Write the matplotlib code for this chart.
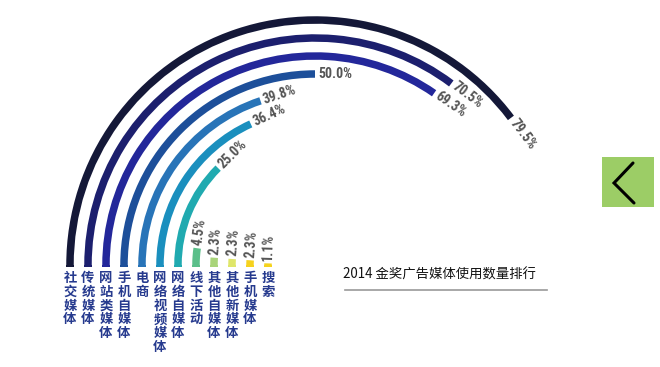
import math
import logging

import matplotlib
matplotlib.use("Agg")
import matplotlib.pyplot as plt
from matplotlib.patches import Wedge, Rectangle
from matplotlib import font_manager

logging.getLogger("matplotlib.font_manager").setLevel(logging.ERROR)
plt.rcParams['font.family'] = ['Noto Sans CJK SC', 'DejaVu Sans']

# data: outermost ring first
categories = ["社交媒体", "传统媒体", "网站类媒体", "手机自媒体", "电商", "网络视频媒体",
              "网络自媒体", "线下活动", "其他自媒体", "其他新媒体", "手机媒体", "搜索"]
values = [79.5, 70.5, 69.3, 50.0, 39.8, 36.4, 25.0, 4.5, 2.3, 2.3, 2.3, 1.1]
colors = ["#141838", "#1c1f6e", "#23279a", "#1d4f9a", "#2874b8", "#1a8fbe",
          "#20aab0", "#5bbf8a", "#a9d47a", "#dfe66a", "#f6d21e", "#f5d31e"]
title = "2014 金奖广告媒体使用数量排行"

W, H = 660, 367
fig = plt.figure(figsize=(6.6, 3.67), dpi=100)
ax = fig.add_axes([0, 0, 1, 1])
ax.set_xlim(0, W)
ax.set_ylim(0, H)
ax.axis("off")

cx, cy = 315, H - 265       # ring centre (pixels, y up)
r_outer, step, width = 245, 18, 7.5
deg_per_pct = 1.8           # 100% = half circle

# pick a narrow face for the percentages if one is installed
installed = {f.name for f in font_manager.fontManager.ttflist}
narrow = [f for f in ("Roboto Condensed", "Liberation Sans Narrow", "Open Sans Condensed")
          if f in installed]
pct_family = (narrow or ["DejaVu Sans"])[0]
pct_size = 10 if narrow else 7.8

for i, (cat, v, c) in enumerate(zip(categories, values, colors)):
    r = r_outer - i * step
    end = 180 - v * deg_per_pct
    ax.add_patch(Wedge((cx, cy), r + width / 2, end, 180, width=width,
                       facecolor=c, edgecolor="none"))
    ax.add_patch(Rectangle((cx - r - width / 2, cy - 2), width, 2,
                           facecolor=c, edgecolor="none"))
    # percentage label continuing along the tangent
    a = math.radians(end)
    gap = 3
    ta = a - math.pi / 2
    px = cx + r * math.cos(a) + gap * math.cos(ta)
    py = cy + r * math.sin(a) + gap * math.sin(ta)
    ax.text(px, py, f"{v:.1f}%", rotation=end - 90, rotation_mode="anchor",
            ha="left", va="center", fontsize=pct_size, fontweight="bold",
            fontstretch="condensed", color="#555555",
            family=[pct_family, "DejaVu Sans"])
    # vertical category label
    ax.text(cx - r, H - 271, "\n".join(cat), ha="center", va="top",
            fontsize=9.6, fontweight="bold", color="#263a8e", linespacing=0.98)

ax.text(343, H - 275, title, ha="left", va="center", fontsize=9.6,
        fontweight="medium", color="#111111")
ax.plot([345, 547], [H - 290, H - 290], color="#999999", lw=1.2)

# nav button
ax.add_patch(Rectangle((602, H - 207), 52, 50, facecolor="#9ccd66", edgecolor="none"))
ax.plot([633, 614, 634], [H - 163, H - 183, H - 203], color="black", lw=2.2,
        solid_capstyle="round", solid_joinstyle="miter")

fig.savefig("out.png", dpi=100)
